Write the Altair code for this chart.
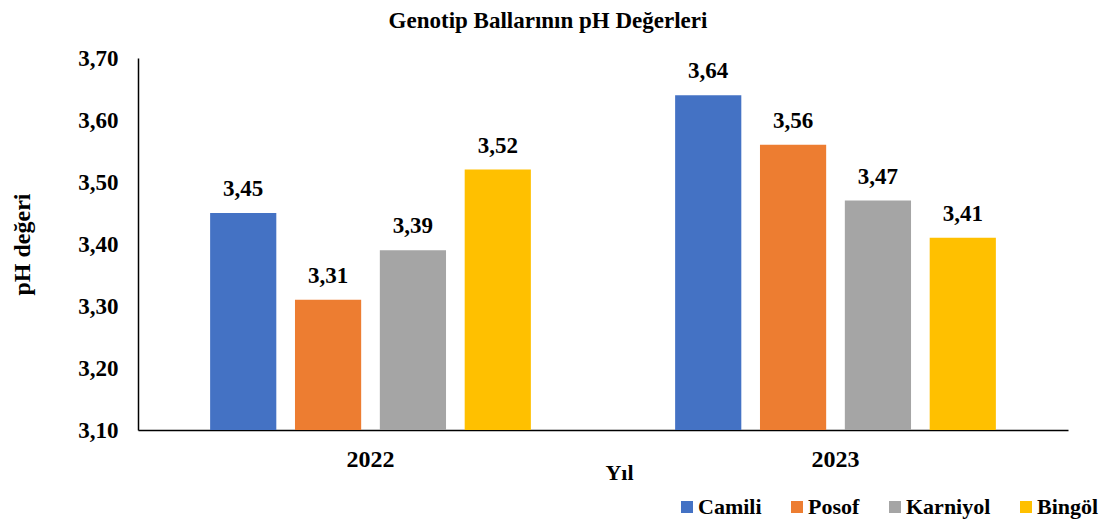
import altair as alt
import pandas as pd

years = ["2022", "2022", "2022", "2022", "2023", "2023", "2023", "2023"]
genotypes = ["Camili", "Posof", "Karniyol", "Bingöl", "Camili", "Posof", "Karniyol", "Bingöl"]
values = [3.45, 3.31, 3.39, 3.52, 3.64, 3.56, 3.47, 3.41]
order = ["Camili", "Posof", "Karniyol", "Bingöl"]
colors = ["#4472C4", "#ED7D31", "#A5A5A5", "#FFC000"]
y_ticks = [3.1, 3.2, 3.3, 3.4, 3.5, 3.6, 3.7]

df = pd.DataFrame({"Yıl": years, "Genotip": genotypes, "pH": values})
df["label"] = df["pH"].map(lambda v: f"{v:.2f}".replace(".", ","))

FONT = "Liberation Serif"

x = alt.X("Yıl:N", title="Yıl",
          scale=alt.Scale(paddingInner=0, paddingOuter=0),
          axis=alt.Axis(labelAngle=0, ticks=False, domainColor="black", domainWidth=1.5,
                        labelFontSize=24, labelFont=FONT, labelFontWeight="bold", labelColor="black",
                        labelPadding=17, titleFont=FONT, titleFontSize=22, titleFontWeight="bold",
                        titleColor="black", titleX=481, titleY=42, titleBaseline="middle"))
xo = alt.XOffset("Genotip:N", sort=order,
                 scale=alt.Scale(paddingInner=0.22, paddingOuter=0.85))
y = alt.Y("pH:Q", title="pH değeri",
          scale=alt.Scale(domain=[3.1, 3.7], zero=False, nice=False),
          axis=alt.Axis(values=y_ticks, ticks=False, grid=False, domainColor="black", domainWidth=1.5,
                        labelExpr="replace(format(datum.value, '.2f'), '.', ',')",
                        labelFontSize=23, labelFont=FONT, labelFontWeight="bold", labelColor="black",
                        labelPadding=20, titleFont=FONT, titleFontSize=24, titleFontWeight="bold",
                        titleColor="black", titlePadding=43))

color = alt.Color("Genotip:N", sort=order, title=None,
                  scale=alt.Scale(domain=order, range=colors),
                  legend=alt.Legend(orient="none", direction="horizontal", legendX=538, legendY=438,
                                    symbolType="square", symbolSize=144, symbolStrokeWidth=0,
                                    labelFont=FONT, labelFontSize=22, labelFontWeight="bold",
                                    labelColor="black", columnPadding=24, labelOffset=0))

bars = alt.Chart(df).mark_bar().encode(x=x, xOffset=xo, y=y, y2=alt.datum(3.1), color=color)
text = alt.Chart(df).mark_text(dy=-24, baseline="middle", font=FONT, fontSize=23,
                               fontWeight="bold", color="black").encode(
    x=alt.X("Yıl:N"), xOffset=alt.XOffset("Genotip:N", sort=order), y="pH:Q", text="label:N")

chart = (bars + text).properties(
    width=930, height=372, autosize="none",
    padding={"left": 130, "top": 50, "right": 39, "bottom": 89},
    title=alt.Title("Genotip Ballarının pH Değerleri", font=FONT, fontSize=23, fontWeight="bold",
                    color="black", anchor="middle", offset=14, dx=-55),
).configure_view(stroke=None)

chart.save("out.html", embed_options={"renderer": "svg", "actions": False})
